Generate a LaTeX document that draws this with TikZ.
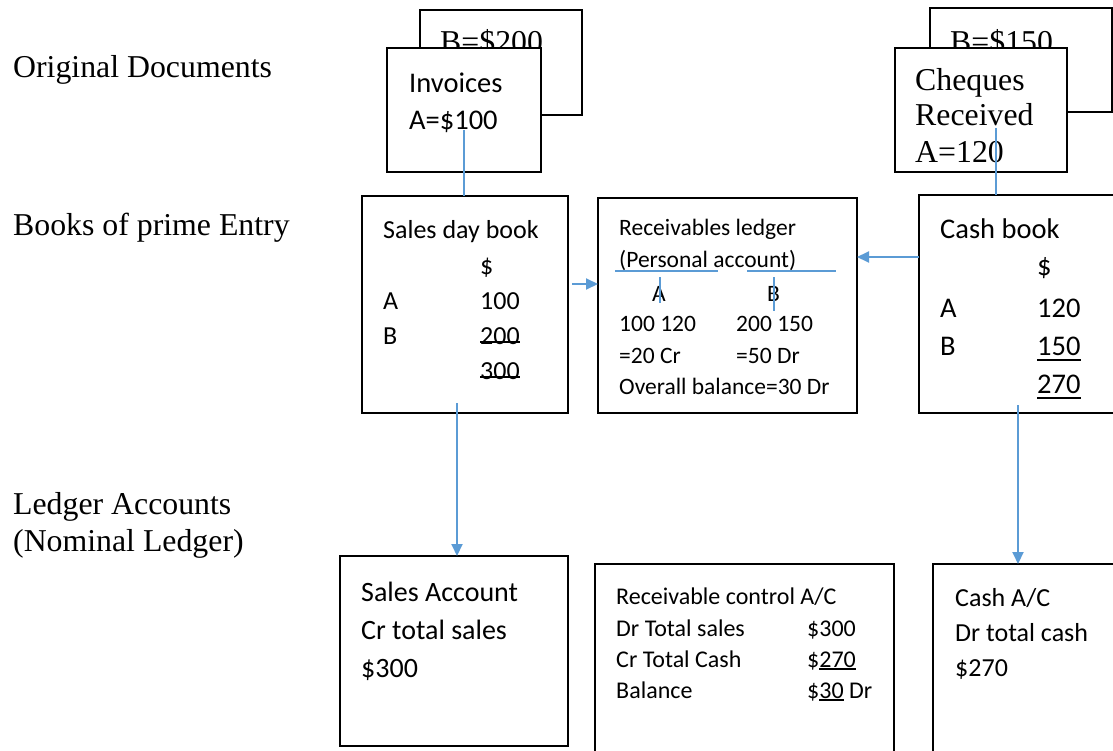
\documentclass[tikz,border=0pt]{standalone}
\usepackage{fontspec}
\setmainfont{Liberation Serif}
\newfontfamily\calib{Carlito}
\usetikzlibrary{arrows.meta,calc}

\definecolor{linkblue}{HTML}{5B9BD5}

% font helpers (sizes given in pt, one pt per unit of the picture)
\newcommand\cfs[1]{\calib\fontsize{#1}{#1}\selectfont}
\newcommand\tfs{\fontsize{31.8}{31.8}\selectfont}
% rule under (or through) a figure: #1 = raise, #2 = text
\newcommand\ulbar[2]{\leavevmode\setbox0\hbox{#2}\rlap{\rule[#1]{\wd0}{0.075em}}\box0\relax}

\begin{document}
\begin{tikzpicture}[x=1pt,y=-1pt,
  box/.style={draw=black, line width=1.2pt, fill=white, anchor=north west,
              inner sep=0pt, outer sep=0pt},
  txt/.style={inner sep=0pt, anchor=base west, text=black},
  link/.style={draw=linkblue, line width=2pt},
  tline/.style={draw=linkblue, line width=1.5pt},
  arrowlink/.style={link, -{Triangle[length=12pt,width=11pt]}}]

\useasboundingbox (0,0) rectangle (1113,751);
\clip (0,0) rectangle (1113,751);

% ---- row labels ----
\node[txt, font=\tfs] (lblOrig)   at (13,78)  {Original Documents};
\node[txt, font=\tfs] (lblPrime)  at (13,236) {Books of prime Entry};
\node[txt, font=\tfs] (lblLedger) at (13,514) {Ledger Accounts};
\node[txt, font=\tfs] (lblNom)    at (13,551) {(Nominal Ledger)};

% ---- original documents: invoices ----
\node[box, minimum width=162pt, minimum height=105pt] (invB) at (420,10) {};
\node[txt, font=\tfs] (invBt) at (440,53) {B=\$200};
\node[box, minimum width=154pt, minimum height=124pt] (invA) at (387,48) {};
\node[txt, font=\cfs{28.5}] (invA1) at (409,93)  {Invoices};
\node[txt, font=\cfs{28.5}] (invA2) at (409,130) {A=\$100};

% ---- original documents: cheques ----
\node[box, minimum width=182pt, minimum height=104pt] (chqB) at (930,8) {};
\node[txt, font=\tfs] (chqBt) at (950,53) {B=\$150};
\node[box, minimum width=172pt, minimum height=124pt] (chqA) at (895,48) {};
\node[txt, font=\tfs] (chqA1) at (915,91)  {Cheques};
\node[txt, font=\tfs] (chqA2) at (915,126) {Received};
\node[txt, font=\tfs] (chqA3) at (915,163) {A=120};

% ---- books of prime entry ----
\node[box, minimum width=206pt, minimum height=217pt] (sdb) at (362,196) {};
\node[txt, font=\cfs{26}] (sdb1)  at (383,239) {Sales day book};
\node[txt, font=\cfs{26}] (sdb2)  at (480,274) {\$};
\node[txt, font=\cfs{26}] (sdb3a) at (383,309) {A};
\node[txt, font=\cfs{26}] (sdb3b) at (480,309) {100};
\node[txt, font=\cfs{26}] (sdb4a) at (383,344) {B};
\node[txt, font=\cfs{26}] (sdb4b) at (480,344) {\ulbar{0.04em}{200}};
\node[txt, font=\cfs{26}] (sdb5)  at (480,379) {\ulbar{0.04em}{300}};

\node[box, minimum width=259pt, minimum height=215pt] (rl) at (598,198) {};
\node[txt, font=\cfs{23.5}] (rl1)  at (619,236) {Receivables ledger};
\node[txt, font=\cfs{23.5}] (rl2)  at (619,268) {(Personal account)};
\node[txt, font=\cfs{23.5}] (rl3a) at (652,301) {A};
\node[txt, font=\cfs{23.5}] (rl3b) at (767,301) {B};
\node[txt, font=\cfs{23.5}] (rl4a) at (619,331) {100 120};
\node[txt, font=\cfs{23.5}] (rl4b) at (736,331) {200 150};
\node[txt, font=\cfs{23.5}] (rl5a) at (619,363) {=20 Cr};
\node[txt, font=\cfs{23.5}] (rl5b) at (736,363) {=50 Dr};
\node[txt, font=\cfs{23.5}] (rl6)  at (619,394) {Overall balance=30 Dr};
% T-accounts for A and B
\coordinate (tA1) at (615,271); \coordinate (tA2) at (718,271);
\coordinate (tB1) at (747,271); \coordinate (tB2) at (836,271);
\draw[tline] (tA1) -- (tA2);
\draw[tline] (tB1) -- (tB2);
\draw[tline] (660,277) -- (660,303);
\draw[tline] (774,277) -- (774,311);

\node[box, minimum width=220pt, minimum height=218pt] (cashbk) at (919,195) {};
\node[txt, font=\cfs{28.5}] (cb1)  at (940,239)  {Cash book};
\node[txt, font=\cfs{28.5}] (cb2)  at (1037,276) {\$};
\node[txt, font=\cfs{28.5}] (cb3a) at (940,317)  {A};
\node[txt, font=\cfs{28.5}] (cb3b) at (1037,317) {120};
\node[txt, font=\cfs{28.5}] (cb4a) at (940,355)  {B};
\node[txt, font=\cfs{28.5}] (cb4b) at (1037,355) {\ulbar{-0.22em}{150}};
\node[txt, font=\cfs{28.5}] (cb5)  at (1037,393) {\ulbar{-0.22em}{270}};

% ---- ledger accounts ----
\node[box, minimum width=228pt, minimum height=190pt] (salesac) at (340,556) {};
\node[txt, font=\cfs{28}] (sa1) at (361,601) {Sales Account};
\node[txt, font=\cfs{28}] (sa2) at (361,639) {Cr total sales};
\node[txt, font=\cfs{28}] (sa3) at (361,677) {\$300};

\node[box, minimum width=299pt, minimum height=220pt] (rca) at (595,564) {};
\node[txt, font=\cfs{24}] (rc1)  at (616,604) {Receivable control A/C};
\node[txt, font=\cfs{24}] (rc2a) at (616,636) {Dr Total sales};
\node[txt, font=\cfs{24}] (rc2b) at (807,636) {\$300};
\node[txt, font=\cfs{24}] (rc3a) at (616,667) {Cr Total Cash};
\node[txt, font=\cfs{24}] (rc3b) at (807,667) {\$\ulbar{-0.12em}{270}};
\node[txt, font=\cfs{24}] (rc4a) at (616,698) {Balance};
\node[txt, font=\cfs{24}] (rc4b) at (807,698) {\$\ulbar{-0.12em}{30} Dr};

\node[box, minimum width=200pt, minimum height=220pt] (cashac) at (933,564) {};
\node[txt, font=\cfs{26}] (ca1) at (955,606) {Cash A/C};
\node[txt, font=\cfs{26}] (ca2) at (955,641) {Dr total cash};
\node[txt, font=\cfs{26}] (ca3) at (955,676) {\$270};

% ---- connectors ----
\coordinate (invOut) at (464,130);
\draw[link] (invOut) -- (sdb.north -| invOut);

\coordinate (chqOut) at (996,128);
\draw[link] (chqOut) -- (cashbk.north -| chqOut);

\coordinate (sdbDown) at (457,403);
\draw[arrowlink] (sdbDown) -- (salesac.north -| sdbDown);

\coordinate (cbDown) at (1018,405);
\draw[arrowlink] (cbDown) -- (cashac.north -| cbDown);

\coordinate (sdbSide) at (572,284);
\draw[arrowlink] (sdbSide) -- (rl.west |- sdbSide);

\coordinate (cbSide) at (919,257);
\draw[arrowlink] (cashbk.west |- cbSide) -- (rl.east |- cbSide);

\end{tikzpicture}
\end{document}
